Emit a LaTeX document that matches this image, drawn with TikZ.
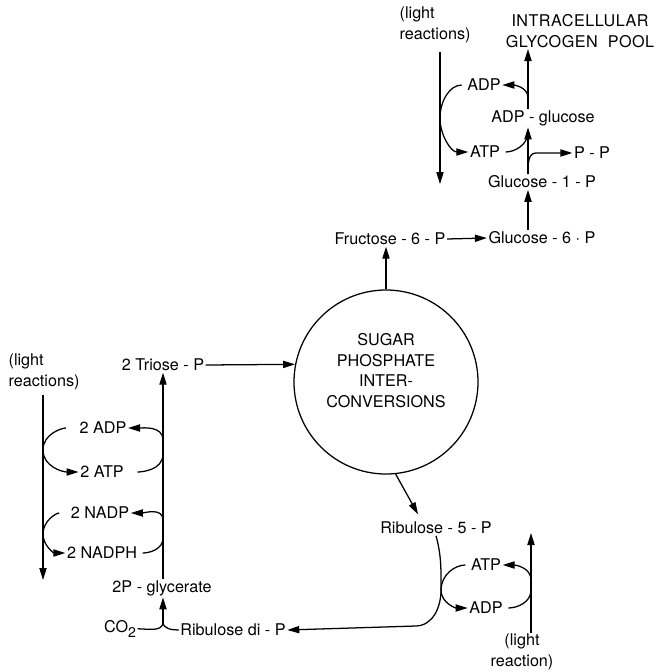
\documentclass[tikz,border=0pt]{standalone}
\usepackage{fontspec}
\setmainfont{TeX Gyre Heros}
\usetikzlibrary{arrows.meta,calc}

\begin{document}
\begin{tikzpicture}[
    lbl/.style={inner sep=1pt, font=\fontsize{11.5}{14.5}\selectfont},
    reac/.style={-{Triangle[length=3mm,width=1.8mm]}, line width=0.9pt},
    cofl/.style={line width=0.9pt}]
    \useasboundingbox (0,0) rectangle (16.425,-16.8);

    % upper right: glycogen branch
    \node[lbl, align=left, anchor=west] (lighttop) at (9.95,-0.625) {(light\\reactions)};
    \node[lbl, align=center, font=\fontsize{11.5}{14.5}\selectfont\addfontfeatures{LetterSpace=3}] (intra) at (14.5,-0.775) {INTRACELLULAR\\GLYCOGEN\ \ POOL};
    \node[lbl] (adpT) at (12.1,-2.125) {ADP};
    \node[lbl] (adpg) at (13.575,-2.95) {ADP - glucose};
    \node[lbl] (atpT) at (12.125,-3.8) {ATP};
    \node[lbl] (pp) at (14.8,-3.825) {P - P};
    \node[lbl] (g1p) at (13.55,-4.55) {Glucose - 1 - P};
    \node[lbl] (g6p) at (13.55,-5.95) {Glucose - 6 · P};
    \node[lbl] (f6p) at (9.75,-5.975) {Fructose - 6 - P};

    % centre
    \node[circle, draw, line width=0.9pt, minimum size=4.6cm, lbl, align=center] (sugar) at (9.65,-9.55) {SUGAR\\PHOSPHATE\\INTER-\\CONVERSIONS\\[2pt]};

    % left: reduction of glycerate
    \node[lbl, align=left, anchor=west] (lightL) at (0.175,-9.3) {(light\\reactions)};
    \node[lbl] (triose) at (4.075,-9.125) {2 Triose - P};
    \node[lbl] (adp2) at (2.575,-10.7) {2\ ADP};
    \node[lbl] (atp2) at (2.55,-11.8) {2\ ATP};
    \node[lbl] (nadp) at (2.5,-12.825) {2 NADP};
    \node[lbl] (nadph) at (2.55,-13.825) {2 NADPH};
    \node[lbl] (pgly) at (4.05,-14.7) {2P - glycerate};
    \node[lbl] (co2) at (3.0,-15.72) {CO\raisebox{-0.6ex}{\fontsize{10}{10}\selectfont 2}};
    \node[lbl] (rudp) at (5.825,-15.75) {Ribulose\ di - P};

    % lower right: regeneration
    \node[lbl] (ru5p) at (10.9,-13.2) {Ribulose - 5 - P};
    \node[lbl] (atpB) at (12.15,-14.125) {ATP};
    \node[lbl] (adpB) at (12.15,-15.2) {ADP};
    \node[lbl, align=center] (lightB) at (13.05,-16.3) {(light\\reaction)};

    \coordinate (gcol) at (13.2,0);
    \coordinate (pcol) at (4.075,0);
    \coordinate (ltend) at (11.0,-4.6);
    \coordinate (llend) at (1.075,-14.5);
    \coordinate (lbend) at (13.275,-13.325);
    \coordinate (bulge) at (11.025,-14.75);
    \coordinate (jn) at (4.075,-15.55);

    % glycogen branch
    \draw[reac] (sugar.north) -- (sugar.north |- f6p.south);
    \draw[reac] (f6p.east) -- (g6p.west);
    \draw[reac] (g6p.north -| gcol) -- (g1p.south -| gcol);
    \draw[reac] (g1p.north -| gcol) -- (adpg.south -| gcol);
    \draw[reac] (adpg.north -| gcol) -- (intra.south -| gcol);
    \draw[reac] (g1p.north -| gcol) .. controls +(0,0.3) and +(-0.2,0) .. ($(pp.west)+(-0.9,0)$) -- (pp.west);
    \draw[reac] ($(lighttop.south -| ltend)+(0,-0.2)$) -- (ltend);
    \draw[reac, shorten <=1mm] (adpT.west) to[out=180,in=90] (ltend |- adpg) to[out=-90,in=180] (atpT.west);
    \draw[cofl, shorten <=1mm] (atpT.east) to[out=0,in=-90] (13.2,-3.3);
    \draw[reac] (13.2,-2.45) to[out=90,in=0] (adpT.east);

    % glycerate to triose
    \draw[reac] ($(lightL.south -| llend)+(0,-0.1)$) -- (llend);
    \draw[reac] (pgly.north -| pcol) -- (triose.south -| pcol);
    \draw[reac] (triose.east) -- (sugar.169);
    \draw[reac, shorten <=3mm] (adp2.west) to[out=180,in=90] (1.075,-11.25) to[out=-90,in=180] (atp2.west);
    \draw[cofl, shorten <=3mm] (atp2.east) to[out=0,in=-90] (4.075,-11.35);
    \draw[reac] (4.075,-11.0) to[out=90,in=0] (adp2.east);
    \draw[reac, shorten <=2.5mm] (nadp.west) to[out=180,in=90] (1.075,-13.35) to[out=-90,in=180] (nadph.west);
    \draw[cofl, shorten <=1mm] (nadph.east) to[out=0,in=-90] (4.075,-13.45);
    \draw[reac] (4.075,-13.0) to[out=90,in=0] (nadp.east);

    % carboxylation
    \draw[cofl] (co2.east) to[out=0,in=-90] (jn);
    \draw[cofl] (rudp.west) to[out=180,in=-90] (jn);
    \draw[reac] (jn) -- (pgly.south -| pcol);

    % regeneration of ribulose di-P
    \draw[reac] (sugar.-84) -- ($(ru5p.north)+(-0.45,0.15)$);
    \draw[reac] (ru5p.south) to[out=-75,in=90] (bulge) to[out=-90,in=2] (10.4,-15.65) -- (rudp.east);
    \draw[reac, shorten <=1mm] (atpB.west) to[out=180,in=90] (bulge) to[out=-90,in=180] (adpB.west);
    \draw[cofl, shorten <=1mm] (adpB.east) to[out=0,in=-90] (13.275,-14.75);
    \draw[reac] (13.275,-14.5) to[out=90,in=0] (atpB.east);
    \draw[reac] (lightB.north -| lbend) -- (lbend);
\end{tikzpicture}
\end{document}
